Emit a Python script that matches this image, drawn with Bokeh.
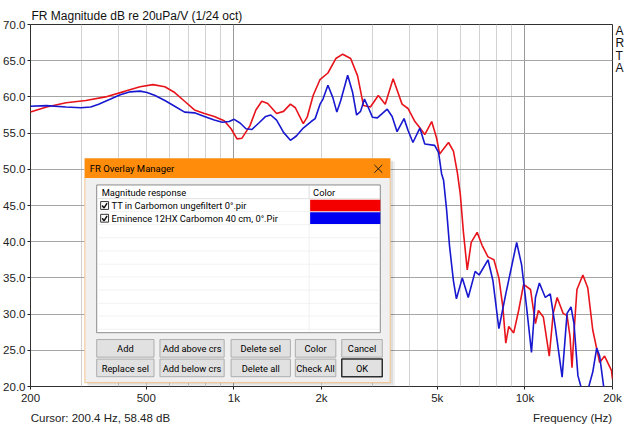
import math
from bokeh.plotting import figure
from bokeh.models import (FixedTicker, Grid, PrintfTickFormatter, LinearAxis, LogAxis)
from bokeh.core.properties import value
from bokeh.embed import file_html
from bokeh.resources import INLINE

# ---------------- data ----------------
freq_tt = [200, 227, 265, 310, 362, 424, 476, 527, 579, 626, 677, 732, 792, 856,
           926, 978, 1025, 1066, 1135, 1190, 1247, 1307, 1402, 1481, 1564, 1626,
           1731, 1786, 1872, 1977, 2104, 2240, 2366, 2519, 2661, 2788, 2945, 3135,
           3312, 3525, 3783, 3965, 4188, 4321, 4528, 4783, 4974, 5092, 5463, 5681,
           5862, 6000, 6142, 6337, 6539, 6853, 7126, 7468, 7827, 8139, 8398, 8597,
           8801, 9152, 9517, 9896, 10453, 10870, 11128, 11571, 12127, 12512, 12910,
           13217, 13530, 13960, 14291, 14516, 14745, 15095, 15821, 16451, 17107,
           18068, 18789, 19844, 20000]
db_tt = [57.9, 58.6, 59.2, 59.5, 60.0, 60.8, 61.4, 61.7, 61.4, 60.6, 59.4, 58.2,
         57.7, 57.3, 56.7, 55.6, 54.2, 54.3, 56.0, 58.2, 59.4, 59.1, 57.7, 58.0,
         59.0, 58.5, 56.3, 57.2, 60.2, 62.4, 63.3, 65.3, 65.9, 65.3, 62.9, 58.8,
         58.6, 60.2, 59.0, 62.5, 59.0, 58.4, 56.6, 55.9, 54.8, 56.6, 54.3, 52.1,
         53.7, 52.5, 49.5, 46.5, 41.5, 36.1, 39.9, 41.3, 39.5, 37.9, 37.5, 35.0,
         31.0, 26.0, 28.3, 27.4, 30.5, 34.1, 33.4, 28.7, 30.5, 29.6, 24.2, 30.1,
         32.3, 31.2, 30.1, 29.8, 26.9, 22.6, 27.4, 33.4, 35.4, 33.6, 27.8, 23.3,
         24.2, 22.2, 21.0]

freq_em = [200, 227, 265, 298, 322, 343, 377, 407, 440, 476, 503, 536, 579, 626,
           677, 732, 792, 856, 912, 963, 1002, 1050, 1100, 1153, 1218, 1286, 1338,
           1402, 1481, 1564, 1639, 1731, 1843, 1902, 1977, 2024, 2104, 2188, 2258,
           2329, 2460, 2559, 2640, 2724, 2810, 2899, 2992, 3111, 3364, 3498, 3637,
           3843, 3965, 4123, 4355, 4528, 4897, 5052, 5172, 5254, 5379, 5506, 5593,
           5681, 5816, 6094, 6387, 6747, 6961, 7468, 7766, 8139, 8597, 9081, 9369,
           9743, 10131, 10535, 10870, 11215, 11754, 12222, 12710, 13425, 13960,
           14403, 14745, 15213, 15697, 16323, 17107, 17650, 18068, 18789, 20000]
db_em = [58.7, 58.8, 58.6, 58.5, 58.6, 59.0, 59.7, 60.3, 60.7, 60.8, 60.6, 60.2,
         59.5, 58.7, 57.9, 57.8, 57.3, 56.8, 56.5, 56.6, 56.9, 56.4, 55.6, 55.5,
         56.4, 57.3, 57.5, 56.8, 55.1, 54.0, 54.6, 55.7, 56.6, 57.0, 59.0, 59.7,
         61.6, 59.9, 57.9, 59.5, 63.0, 60.6, 57.5, 58.0, 59.7, 58.5, 57.2, 57.1,
         58.3, 57.3, 55.2, 57.0, 55.4, 53.7, 55.7, 53.5, 53.3, 52.3, 49.4, 48.5,
         44.5, 39.5, 37.0, 34.6, 32.1, 35.0, 32.3, 35.9, 35.4, 37.5, 34.6, 28.0,
         32.8, 37.3, 39.9, 36.8, 31.0, 24.7, 32.3, 34.3, 32.3, 32.8, 28.3, 21.3,
         30.1, 31.0, 28.7, 21.5, 19.5, 19.0, 22.0, 25.3, 24.2, 19.0, 18.5]

x_ticks = [200, 500, 1000, 2000, 5000, 10000, 20000]
x_tick_labels = ["200", "500", "1k", "2k", "5k", "10k", "20k"]
x_fine_grid = [300, 400, 500, 600, 700, 800, 900,
               2000, 3000, 4000, 5000, 6000, 7000, 8000, 9000]
x_decade_grid = [1000, 10000]
y_ticks = [20, 25, 30, 35, 40, 45, 50, 55, 60, 65, 70]

series_names = ["TT in Carbomon ungefiltert 0°.pir",
                "Eminence 12HX Carbomon 40 cm, 0°.Pir"]
series_colors = ["#E8141C", "#1818D0"]
swatch_colors = ["#F50000", "#0000F0"]

title_text = "FR Magnitude dB re 20uPa/V (1/24 oct)"
cursor_text = "Cursor: 200.4 Hz, 58.48 dB"
xlabel_text = "Frequency (Hz)"
side_letters = ["A", "R", "T", "A"]

# ---------------- figure ----------------
CHART_FONT = "Liberation Sans"
UI_FONT = "Roboto"

p = figure(x_axis_type="log", x_range=(200, 20000), y_range=(20, 70),
           frame_width=582, frame_height=362,
           min_border_left=30, min_border_right=12, min_border_top=24,
           min_border_bottom=37,
           output_backend="svg", toolbar_location=None,
           background_fill_color="white", border_fill_color="white")
p.outline_line_color = "#303030"
p.outline_line_width = 1
p.xgrid.visible = False
p.ygrid.visible = False

p.title.text = title_text
p.title.align = "left"
p.title.text_font = CHART_FONT
p.title.text_font_size = "12px"
p.title.text_font_style = "normal"
p.title.text_color = "#111111"
p.title.standoff = 4
p.title.offset = 1

for ax in (p.xaxis[0], p.yaxis[0]):
    ax.axis_line_color = None
    ax.major_tick_out = 3
    ax.major_tick_in = 0
    ax.minor_tick_out = 0
    ax.minor_tick_in = 0
    ax.major_tick_line_color = "#202020"
    ax.major_label_text_font = CHART_FONT
    ax.major_label_text_font_size = "11.5px"
    ax.major_label_text_color = "#222222"
    ax.major_label_standoff = 2

p.xaxis[0].ticker = FixedTicker(ticks=x_ticks)
p.xaxis[0].major_label_overrides = {t: s for t, s in zip(x_ticks, x_tick_labels)}
p.yaxis[0].ticker = FixedTicker(ticks=y_ticks)
p.yaxis[0].formatter = PrintfTickFormatter(format="%.1f")

# second row under the frequency axis: cursor read-out (left) and axis name (right)
FRAME_W = 582
def centred_at(px_from_left):
    return 200 * 10 ** (2 * px_from_left / FRAME_W)
cursor_pos = round(centred_at(70))
xlabel_pos = round(centred_at(FRAME_W - 40))
info_axis = LogAxis(ticker=FixedTicker(ticks=[cursor_pos, xlabel_pos]),
                    major_label_overrides={cursor_pos: cursor_text, xlabel_pos: xlabel_text},
                    axis_line_color=None, major_tick_line_color=None,
                    minor_tick_line_color=None, major_tick_out=0, major_tick_in=0,
                    major_label_standoff=5, major_label_text_font=CHART_FONT,
                    major_label_text_font_size="11.5px", major_label_text_color="#222222")
p.add_layout(info_axis, "below")

# vertical "ARTA" mark to the right of the frame
side_pos = [69.15, 67.42, 65.69, 63.96]
side_axis = LinearAxis(ticker=FixedTicker(ticks=side_pos),
                       major_label_overrides={v: s for v, s in zip(side_pos, side_letters)},
                       axis_line_color=None, major_tick_line_color=None,
                       minor_tick_line_color=None, major_tick_out=0, major_tick_in=0,
                       major_label_standoff=3, major_label_text_font=CHART_FONT,
                       major_label_text_font_size="12px", major_label_text_color="#111111")
p.add_layout(side_axis, "right")

p.add_layout(Grid(dimension=0, ticker=FixedTicker(ticks=x_fine_grid),
                  grid_line_color="#D2D2D2", grid_line_width=1))
p.add_layout(Grid(dimension=0, ticker=FixedTicker(ticks=x_decade_grid),
                  grid_line_color="#9A9A9A", grid_line_width=1))
p.add_layout(Grid(dimension=1, ticker=FixedTicker(ticks=y_ticks[1:-1]),
                  grid_line_color="#A6A6A6", grid_line_width=1))

p.line(freq_tt, db_tt, line_color=series_colors[0], line_width=1.6)
p.line(freq_em, db_em, line_color=series_colors[1], line_width=1.6)

# ---------------- overlay manager dialog (layout in reference pixels) ----------------
FL, FR, FT, FB = 34, 623, 27, 397
def fx(px):
    return 10 ** (math.log10(200) + 2 * (px - FL) / (FR - FL))
def fy(py):
    return 70 - 50 * (py - FT) / (FB - FT)

def box(x0, y0, x1, y1, fill, line=None, lw=1, alpha=1.0):
    p.quad(left=[fx(x0)], right=[fx(x1)], top=[fy(y0)], bottom=[fy(y1)],
           fill_color=fill, fill_alpha=alpha, line_color=line, line_width=lw)

def txt(px, py, s, size="9.3px", align="left", color="#000000", font=UI_FONT):
    p.text(x=[fx(px)], y=[fy(py)], text=[s], text_font=value(font),
           text_font_size=size, text_align=align, text_baseline="middle",
           text_color=color)

def seg(pts, color, lw=1):
    p.line([fx(a) for a, b in pts], [fy(b) for a, b in pts], line_color=color,
           line_width=lw)

# shadow
box(92, 167, 403, 397, "#000000", alpha=0.06)
box(91, 166, 401, 395, "#000000", alpha=0.08)
# window
box(89, 164, 398, 393, "#F0F0F0", line="#F3C58E", lw=1)
box(89, 164, 398, 184, "#FF8C0A")
txt(94, 174.5, "FR Overlay Manager", size="9.5px")
seg([(382, 170.5), (390, 178.5)], "#202020", 1)
seg([(382, 178.5), (390, 170.5)], "#202020", 1)

# list view
box(101, 191, 388, 342, "#FFFFFF", line="#8A8A8A", lw=1)
for ry in [218, 231.5, 245, 258.5, 272, 285, 298.5, 312, 325, 338.5]:
    seg([(102, ry), (387, ry)], "#F2F2F2", 1)
seg([(316, 205), (316, 341)], "#F2F2F2", 1)
seg([(102, 205), (387, 205)], "#E2E2E2", 1)
seg([(316, 192), (316, 205)], "#DCDCDC", 1)
txt(106, 198.5, "Magnitude response", size="9.3px")
txt(320, 198.5, "Color", size="9.3px")

for i, (name, col) in enumerate(zip(series_names, swatch_colors)):
    cy = 212 + 13 * i
    box(105, cy - 4, 113, cy + 4, "#FFFFFF", line="#333333", lw=1)
    seg([(106.5, cy), (108.5, cy + 2.5), (111.5, cy - 2.5)], "#111111", 1.5)
    txt(116, cy, name, size="9.3px")
    box(317, cy - 6, 388, cy + 6, col)

# buttons
btn_cols = [(101, 159), (165, 230), (237, 297), (302, 343), (349, 390)]
btn_rows = [(349, 367), (369, 387)]
btn_text = [["Add", "Add above crs", "Delete sel", "Color", "Cancel"],
            ["Replace sel", "Add below crs", "Delete all", "Check All", "OK"]]
for r, (y0, y1) in enumerate(btn_rows):
    for c, (x0, x1) in enumerate(btn_cols):
        is_ok = (r == 1 and c == 4)
        box(x0, y0, x1, y1, "#E1E1E1", line="#2E2E2E" if is_ok else "#ADADAD",
            lw=1.5 if is_ok else 1)
        txt((x0 + x1) / 2, (y0 + y1) / 2 + 0.5, btn_text[r][c], size="9.3px",
            align="center")

open("out.html", "w").write(file_html(p, INLINE))
